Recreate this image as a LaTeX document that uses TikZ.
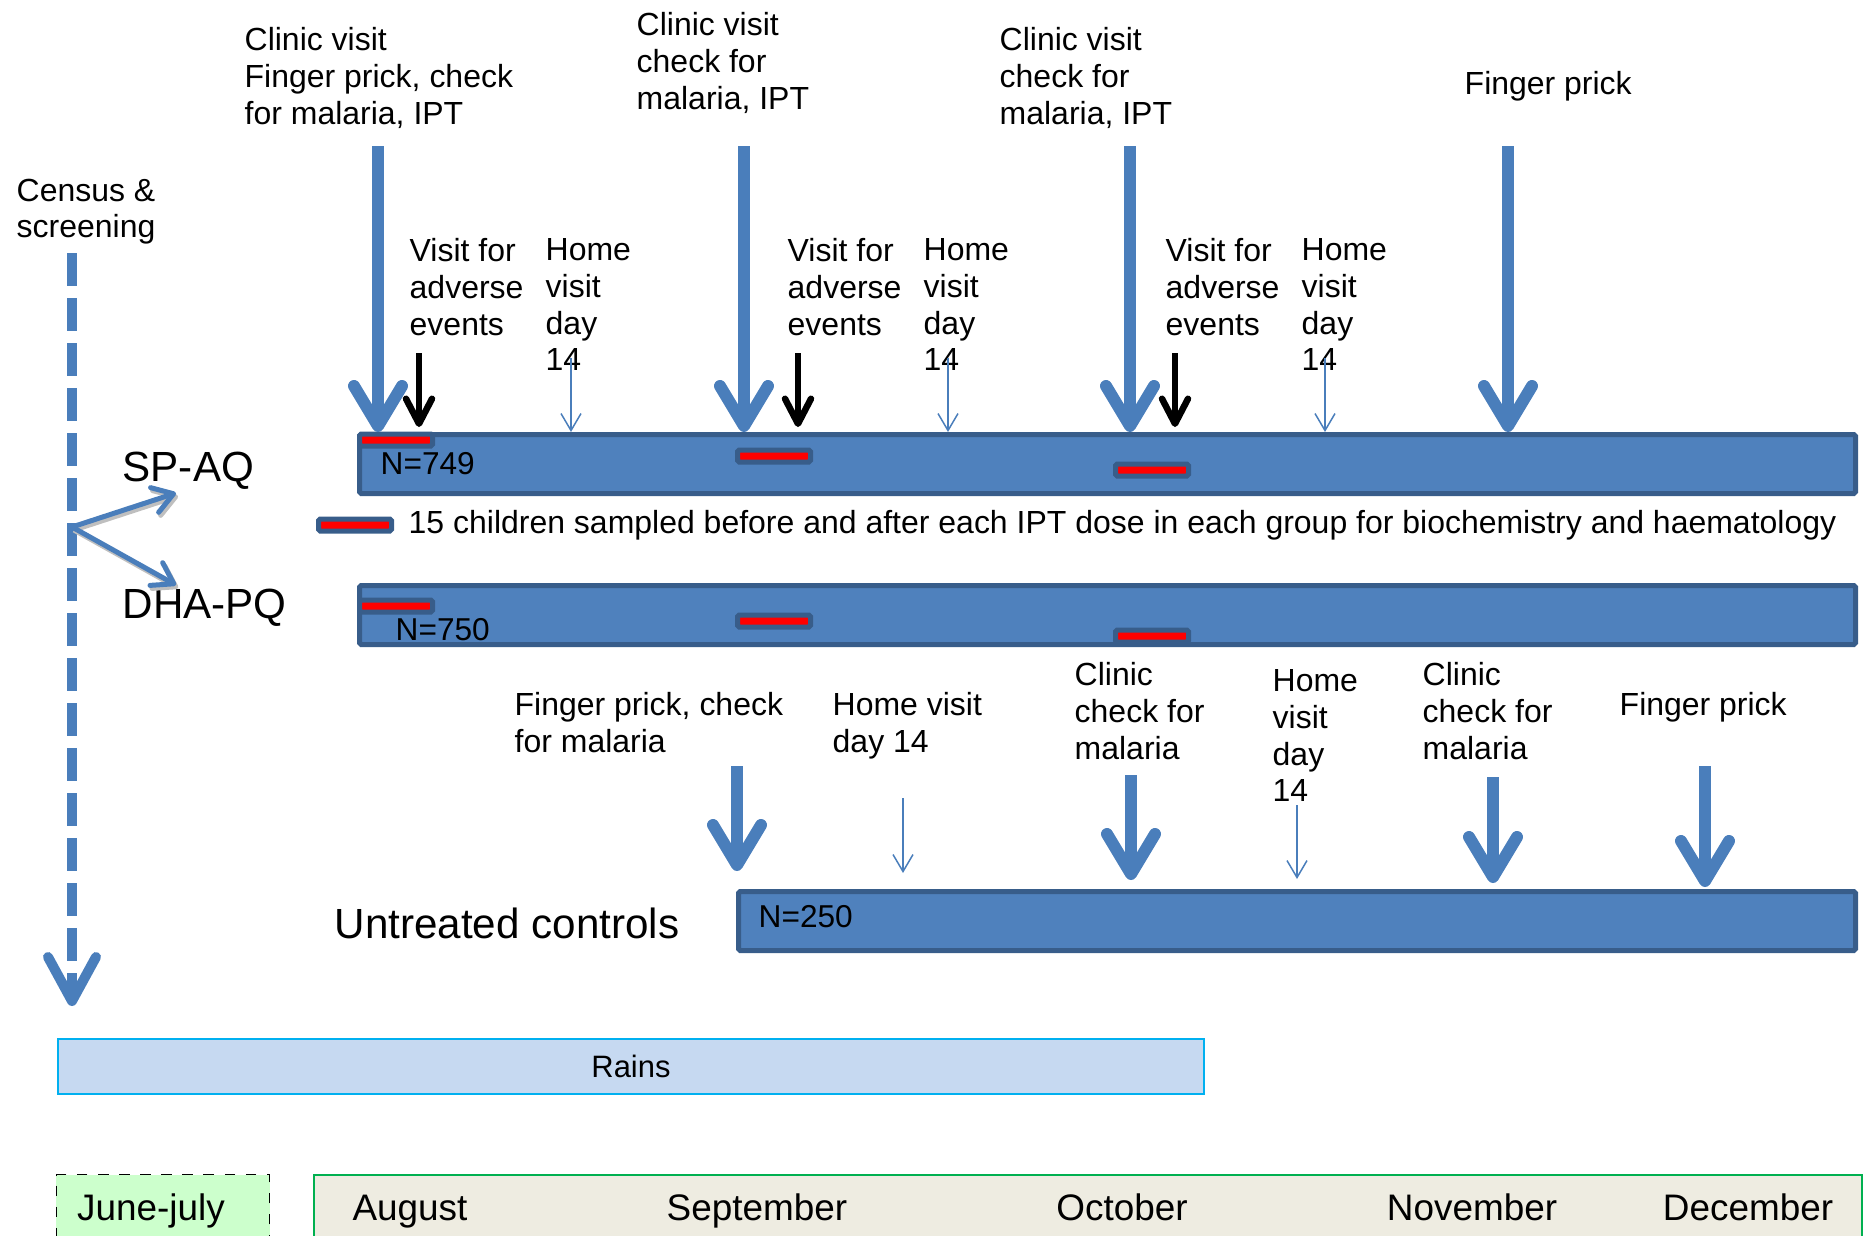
\documentclass[tikz,border=0pt]{standalone}
\usepackage{fontspec}
\setmainfont{Liberation Sans}
\usetikzlibrary{arrows.meta}
\definecolor{barblue}{HTML}{4F81BD}
\definecolor{barline}{HTML}{385D8A}
\definecolor{arrowblue}{HTML}{4A7EBB}
\definecolor{rainfill}{HTML}{C6D9F1}
\definecolor{rainline}{HTML}{00B0F0}
\definecolor{junefill}{HTML}{CCFFCC}
\definecolor{monthfill}{HTML}{EEECE1}
\definecolor{monthline}{HTML}{00B050}

\begin{document}
\begin{tikzpicture}[
  note/.style={anchor=north west, align=left, inner sep=0pt, font=\fontsize{9.1}{10.45}\selectfont},
  bigtext/.style={anchor=base west, inner sep=0pt, font=\fontsize{12}{14}\selectfont},
  ntext/.style={anchor=base west, inner sep=0pt, font=\fontsize{9}{11}\selectfont},
  monthtext/.style={anchor=base, inner sep=0pt, font=\fontsize{10.5}{12}\selectfont},
  groupbar/.style={draw=barline, fill=barblue, line width=0.05cm, rounded corners=0.5pt, inner sep=0pt, minimum height=0.59cm},
  samplebar/.style={draw=barline, fill=red, line width=0.05cm, rounded corners=0.5pt, inner sep=0pt, minimum width=0.73cm, minimum height=0.12cm},
  visit/.style={draw=arrowblue, line width=0.12cm, -{Straight Barb[length=0.4cm, width=0.48cm, round]}},
  adverse/.style={draw=black, line width=0.065cm, -{Straight Barb[length=0.25cm, width=0.26cm, round]}},
  home/.style={draw=arrowblue, line width=0.015cm, -{Straight Barb[length=0.17cm, width=0.2cm]}},
  splitarrow/.style={draw=arrowblue, line width=0.05cm, -{Straight Barb[length=0.2cm, width=0.26cm, round]}},
  census/.style={draw=arrowblue, line width=0.1cm, dash pattern=on 0.33cm off 0.12cm, -{Straight Barb[length=0.44cm, width=0.48cm, round]}}
]

\useasboundingbox (0,0) rectangle (18.67,-12.35);


 % study groups
 \node[groupbar, minimum width=14.96cm] (sp_aq) at (11.075,-4.64) {};

 \node[groupbar, minimum width=14.96cm] (dha_pq) at (11.075,-6.15) {};

 \node[groupbar, minimum width=11.17cm] (controls) at (12.97,-9.21) {};

 \node[samplebar] (sp_aq_s1) at (3.96,-4.40) {};
 \node[samplebar] (sp_aq_s2) at (7.74,-4.56) {};
 \node[samplebar] (sp_aq_s3) at (11.52,-4.70) {};

 \node[samplebar] (dha_pq_s1) at (3.96,-6.06) {};
 \node[samplebar] (dha_pq_s2) at (7.74,-6.21) {};
 \node[samplebar] (dha_pq_s3) at (11.52,-6.36) {};

 \node[ntext] (sp_aq_n) at (3.80,-4.74) {N=749};
 \node[ntext] (dha_pq_n) at (3.95,-6.40) {N=750};
 \node[ntext] (controls_n) at (7.58,-9.27) {N=250};

 \node[bigtext] (sp_aq_name) at (1.22,-4.81) {SP-AQ};
 \node[bigtext] (dha_pq_name) at (1.22,-6.18) {DHA-PQ};
 \node[bigtext] (controls_name) at (3.34,-9.38) {Untreated controls};

 \node[samplebar] (legend_key) at (3.55,-5.25) {};
 \node[ntext, font=\fontsize{9.1}{11}\selectfont] (legend_text) at (4.08,-5.33)
     {15 children sampled before and after each IPT dose in each group for biochemistry and haematology};


 % census and randomisation
 \node[note] (census) at (0.16,-1.78) {Census \&\\screening};

 \coordinate (census_top) at (0.72,-2.53);
 \coordinate (census_end) at (0.72,-10.06);
 \coordinate (split) at (0.72,-5.27);
 \coordinate (sp_aq_end) at (1.76,-4.93);
 \coordinate (dha_pq_end) at (1.76,-5.85);

 \draw [census] (census_top) -- (census_end);
 \draw [splitarrow, draw=black!25, transform canvas={xshift=0.02cm, yshift=-0.03cm}] (split) -- (sp_aq_end);
 \draw [splitarrow, draw=black!25, transform canvas={xshift=0.02cm, yshift=-0.03cm}] (split) -- (dha_pq_end);
 \draw [splitarrow] (split) -- (sp_aq_end);
 \draw [splitarrow] (split) -- (dha_pq_end);


 % treated groups: visits
 \node[note] (clinic_1) at (2.44,-0.27) {Clinic visit\\Finger prick, check\\for malaria, IPT};
 \node[note] (clinic_2) at (6.36,-0.12) {Clinic visit\\check for\\malaria, IPT};
 \node[note] (clinic_3) at (9.99,-0.27) {Clinic visit\\check for\\malaria, IPT};
 \node[note] (prick_4) at (14.64,-0.71) {Finger prick};

 \node[note] (adverse_1) at (4.09,-2.38) {Visit for\\adverse\\events};
 \node[note] (home_1) at (5.45,-2.38) {Home\\visit\\day\\14};
 \node[note] (adverse_2) at (7.87,-2.38) {Visit for\\adverse\\events};
 \node[note] (home_2) at (9.23,-2.38) {Home\\visit\\day\\14};
 \node[note] (adverse_3) at (11.65,-2.38) {Visit for\\adverse\\events};
 \node[note] (home_3) at (13.01,-2.38) {Home\\visit\\day\\14};

 \coordinate (clinic_1_top) at (3.78,-1.46);
 \coordinate (clinic_2_top) at (7.44,-1.46);
 \coordinate (clinic_3_top) at (11.30,-1.46);
 \coordinate (prick_4_top) at (15.08,-1.46);
 \coordinate (adverse_1_top) at (4.19,-3.53);
 \coordinate (adverse_2_top) at (7.98,-3.53);
 \coordinate (adverse_3_top) at (11.75,-3.53);
 \coordinate (home_1_top) at (5.71,-3.58);
 \coordinate (home_2_top) at (9.48,-3.58);
 \coordinate (home_3_top) at (13.25,-3.58);

 \draw [visit] (clinic_1_top) -- (clinic_1_top |- sp_aq.north);
 \draw [visit] (clinic_2_top) -- (clinic_2_top |- sp_aq.north);
 \draw [visit] (clinic_3_top) -- (clinic_3_top |- sp_aq.north);
 \draw [visit] (prick_4_top) -- (prick_4_top |- sp_aq.north);
 \draw [adverse, shorten >=0.05cm] (adverse_1_top) -- (adverse_1_top |- sp_aq.north);
 \draw [adverse, shorten >=0.05cm] (adverse_2_top) -- (adverse_2_top |- sp_aq.north);
 \draw [adverse, shorten >=0.05cm] (adverse_3_top) -- (adverse_3_top |- sp_aq.north);
 \draw [home] (home_1_top) -- (home_1_top |- sp_aq.north);
 \draw [home] (home_2_top) -- (home_2_top |- sp_aq.north);
 \draw [home] (home_3_top) -- (home_3_top |- sp_aq.north);


 % untreated controls: visits
 \node[note] (c_prick_1) at (5.14,-6.92) {Finger prick, check\\for malaria};
 \node[note] (c_home_1) at (8.32,-6.92) {Home visit\\day 14};
 \node[note] (c_clinic_2) at (10.74,-6.62) {Clinic\\check for\\malaria};
 \node[note] (c_home_2) at (12.72,-6.69) {Home\\visit\\day\\14};
 \node[note] (c_clinic_3) at (14.22,-6.62) {Clinic\\check for\\malaria};
 \node[note] (c_prick_4) at (16.19,-6.92) {Finger prick};

 \coordinate (c_prick_1_top) at (7.37,-7.66);
 \coordinate (c_prick_1_end) at (7.37,-8.71);
 \coordinate (c_home_1_top) at (9.03,-7.98);
 \coordinate (c_home_1_end) at (9.03,-8.73);
 \coordinate (c_clinic_2_top) at (11.31,-7.75);
 \coordinate (c_clinic_2_end) at (11.31,-8.80);
 \coordinate (c_home_2_top) at (12.97,-8.05);
 \coordinate (c_home_2_end) at (12.97,-8.79);
 \coordinate (c_clinic_3_top) at (14.93,-7.77);
 \coordinate (c_clinic_3_end) at (14.93,-8.83);
 \coordinate (c_prick_4_top) at (17.05,-7.66);
 \coordinate (c_prick_4_end) at (17.05,-8.87);

 \draw [visit] (c_prick_1_top) -- (c_prick_1_end);
 \draw [home] (c_home_1_top) -- (c_home_1_end);
 \draw [visit] (c_clinic_2_top) -- (c_clinic_2_end);
 \draw [home] (c_home_2_top) -- (c_home_2_end);
 \draw [visit] (c_clinic_3_top) -- (c_clinic_3_end);
 \draw [visit] (c_prick_4_top) -- (c_prick_4_end);


 % season and months
 \node[draw=rainline, fill=rainfill, line width=0.02cm, inner sep=0pt,
       minimum width=11.46cm, minimum height=0.55cm, font=\fontsize{8.8}{10}\selectfont]
     (rains) at (6.31,-10.665) {Rains};

 \node[draw=black, dashed, fill=junefill, line width=0.01cm, inner sep=0pt, anchor=north west,
       minimum width=2.13cm, minimum height=0.9cm] (june_box) at (0.56,-11.74) {};
 \node[draw=monthline, fill=monthfill, line width=0.02cm, inner sep=0pt, anchor=north west,
       minimum width=15.48cm, minimum height=0.9cm] (month_box) at (3.13,-11.74) {};

 \node[monthtext] (june) at (1.51,-12.20) {June-july};
 \node[monthtext] (august) at (4.10,-12.20) {August};
 \node[monthtext] (september) at (7.57,-12.20) {September};
 \node[monthtext] (october) at (11.22,-12.20) {October};
 \node[monthtext] (november) at (14.72,-12.20) {November};
 \node[monthtext] (december) at (17.48,-12.20) {December};


\end{tikzpicture}
\end{document}
